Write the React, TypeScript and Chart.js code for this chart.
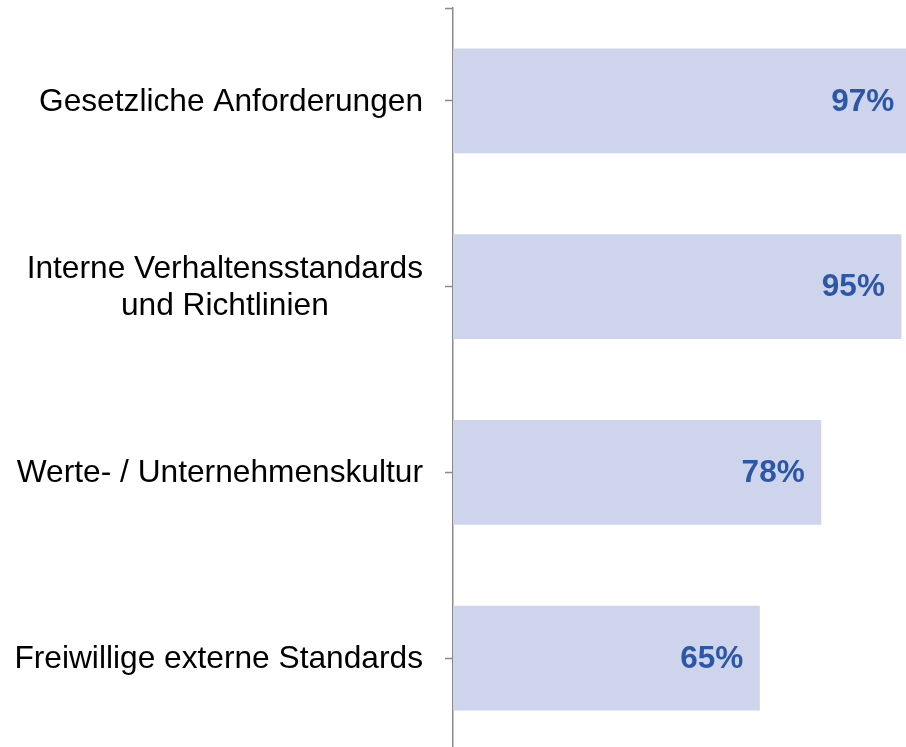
import React, { useEffect, useRef } from "react";
import { Chart, registerables } from "chart.js";

Chart.register(...registerables);

const categories: string[][] = [
  ["Gesetzliche Anforderungen"],
  ["Interne Verhaltensstandards", "und Richtlinien"],
  ["Werte- / Unternehmenskultur"],
  ["Freiwillige externe Standards"],
];
const values: number[] = [97, 95, 78, 65];
const valueLabels: string[] = ["97%", "95%", "78%", "65%"];

const FONT = "'Liberation Sans', Arial, sans-serif";
const AXIS_COLOR = "#8a8a8a";

const labelsPlugin = {
  id: "customLabels",
  afterDraw(chart: any) {
    const ctx = chart.ctx;
    const yScale = chart.scales.y;
    const area = chart.chartArea;
    ctx.save();
    // top boundary tick
    ctx.strokeStyle = AXIS_COLOR;
    ctx.lineWidth = 1.5;
    ctx.beginPath();
    ctx.moveTo(area.left - 8, area.top + 0.5);
    ctx.lineTo(area.left, area.top + 0.5);
    ctx.stroke();

    // category labels
    ctx.font = `31.7px ${FONT}`;
    ctx.fillStyle = "#000000";
    ctx.textBaseline = "middle";
    ctx.textAlign = "center";
    const rightEdge = area.left - 30;
    const lineH = 37;
    categories.forEach((lines, i) => {
      const cy = yScale.getPixelForValue(i) + 1;
      const widths = lines.map((l) => ctx.measureText(l).width);
      const w = Math.max(...widths);
      const cx = rightEdge - w / 2;
      const startY = cy - ((lines.length - 1) * lineH) / 2;
      lines.forEach((l, j) => {
        ctx.fillText(l, cx, startY + j * lineH);
      });
    });

    // value labels
    const meta = chart.getDatasetMeta(0);
    ctx.font = `bold 31.5px ${FONT}`;
    ctx.fillStyle = "#2c56a6";
    ctx.textAlign = "right";
    meta.data.forEach((bar: any, i: number) => {
      ctx.fillText(valueLabels[i], bar.x - 16.5, bar.y + 1);
    });
    ctx.restore();
  },
};

export default function App() {
  const ref = useRef<HTMLCanvasElement | null>(null);
  useEffect(() => {
    if (!ref.current) return;
    const chart = new Chart(ref.current, {
      type: "bar",
      data: {
        labels: categories.map((c) => c.join(" ")),
        datasets: [
          {
            data: values,
            backgroundColor: "#ced4ec",
            borderWidth: 0,
            barPercentage: 0.565,
            categoryPercentage: 1,
          },
        ],
      },
      options: {
        indexAxis: "y",
        animation: false,
        responsive: false,
        devicePixelRatio: 1,
        layout: { padding: { top: 8, left: 0, right: 0, bottom: 0 } },
        plugins: {
          legend: { display: false },
          tooltip: { enabled: false },
        },
        scales: {
          x: {
            display: false,
            min: 0,
            max: 100,
          },
          y: {
            offset: true,
            grid: {
              offset: false,
              drawOnChartArea: false,
              drawTicks: true,
              tickLength: 8,
              tickWidth: 1.5,
              tickColor: AXIS_COLOR,
            },
            border: { display: true, color: AXIS_COLOR, width: 1.5 },
            ticks: { display: false },
            afterFit: (scale: any) => {
              scale.width = 453;
            },
          },
        },
      },
      plugins: [labelsPlugin],
    });
    return () => chart.destroy();
  }, []);

  return (
    <div
      style={{
        position: "fixed",
        left: 0,
        top: 0,
        width: 906,
        height: 747,
        overflow: "hidden",
        background: "#ffffff",
      }}
    >
      <canvas
        ref={ref}
        width={925}
        height={751}
        style={{ width: 925, height: 751, display: "block" }}
      />
    </div>
  );
}
